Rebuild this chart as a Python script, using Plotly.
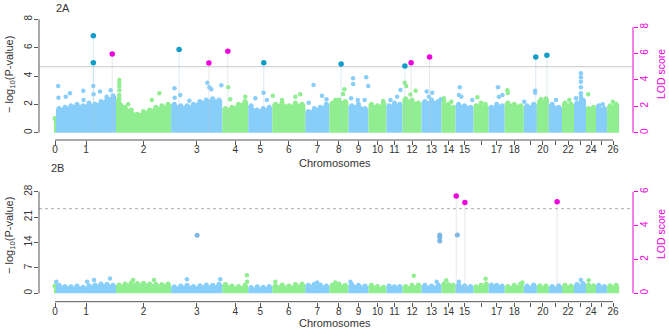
import plotly.graph_objects as go

# ---------------- data ----------------
chrom_names = [str(i) for i in range(27)]
chrom_len = [9, 270, 248, 230, 117, 108, 149, 108, 86, 90, 81, 72, 86, 90,
             63, 81, 68, 72, 86, 59, 54, 59, 54, 54, 45, 50, 54]
tick_text = ["0", "1", "2", "3", "4", "5", "6", "7", "8", "9", "10", "11", "12", "13",
             "14", "15", "", "17", "18", "", "20", "", "22", "", "24", "", "26"]

# binned upper envelope of the dense SNP cloud (-log10 P) per chromosome
env_a = [[1.0],
         [1.7, 1.8, 1.9, 2.0, 1.9, 2.1, 2.0, 2.2, 2.4, 2.6],
         [2.4, 1.8, 1.6, 1.3, 1.5, 1.6, 1.8, 1.9, 2.0],
         [2.0, 1.9, 1.9, 2.0, 2.2, 2.3, 2.4, 2.3],
         [1.7, 1.8, 2.0, 2.2], [1.9, 1.6, 1.7, 1.8], [2.0, 2.1, 1.9, 2.1, 2.0],
         [1.5, 1.7, 1.8, 2.0], [2.1, 2.3, 2.2], [1.9, 2.0, 1.7], [2.0, 1.9, 2.1],
         [1.9, 2.1, 2.0], [2.4, 2.3, 2.1], [2.2, 2.3, 2.2], [2.2, 2.0, 1.8],
         [2.0, 1.9, 1.8], [1.9, 2.1, 1.8], [1.8, 2.0, 1.9], [2.1, 2.0, 1.9],
         [1.9, 2.0], [2.2, 2.4], [2.0, 1.8], [2.1, 2.0], [2.1, 2.3], [1.7, 1.8],
         [1.9, 1.7], [1.9, 2.0]]
env_b = [[2.0],
         [2.2, 1.9, 1.8, 2.0, 1.7, 2.1, 2.3, 2.6, 2.5, 2.2],
         [2.3, 2.6, 2.9, 2.7, 2.8, 2.6, 2.5, 2.4, 2.6],
         [1.8, 2.0, 2.2, 1.9, 2.1, 2.3, 2.2, 2.5],
         [2.4, 2.0, 1.9, 2.2], [1.6, 1.8, 1.7, 1.9], [2.1, 2.3, 2.0, 2.4, 2.6],
         [2.2, 2.5, 2.3, 2.0], [2.3, 2.6, 2.2], [2.4, 2.2, 2.0], [2.2, 1.9, 1.7],
         [2.0, 1.8, 1.9], [1.9, 2.2, 2.3], [2.2, 2.0, 2.3], [2.6, 2.4, 2.2],
         [2.3, 2.1, 1.9], [1.8, 2.2, 2.6], [2.3, 2.2, 2.0], [1.9, 2.2, 2.6],
         [2.0, 2.3], [2.1, 2.0], [1.9, 2.1], [2.2, 2.0], [2.4, 2.7], [2.3, 2.1],
         [2.2, 1.9], [2.1, 2.2]]

# scattered SNPs above the cloud, panel 2A
bg_a_chr = [1, 1, 1, 1, 1, 1, 1, 1, 1, 1, 1,
            2, 2, 2, 2, 2, 2, 2, 2,
            3, 3, 3, 3, 3, 3, 3, 3,
            4, 4, 4, 5, 5, 5, 6, 6, 6, 6,
            7, 7, 7, 7, 8, 8, 8,
            9, 9, 9, 9, 9, 9, 9, 10, 11, 11, 11,
            12, 12, 12, 12, 13, 13, 13, 13, 14, 14,
            15, 15, 15, 15, 16, 16, 17, 17, 17, 18, 18,
            19, 19, 19, 20, 21, 22,
            23, 23, 23, 23, 23, 23, 23, 23, 24, 25, 26, 26]
bg_a_pos = [10, 11, 44, 63, 123, 124, 168, 169, 198, 246, 228,
            15, 15, 15, 15, 15, 55, 161, 195,
            15, 16, 41, 82, 163, 172, 181, 226,
            27, 36, 104, 32, 69, 84, 3, 44, 104, 126,
            37, 15, 75, 95, 68, 62, 27,
            21, 21, 12, 42, 80, 89, 73, 66, 18, 63, 48,
            10, 17, 59, 36, 23, 48, 33, 86, 10, 44,
            19, 15, 26, 75, 17, 54, 42, 46, 62, 12, 14,
            2, 51, 51, 18, 32, 33,
            31, 31, 31, 31, 31, 31, 31, 9, 10, 30, 26, 36]
bg_a_val = [3.30, 2.47, 2.54, 2.78, 2.96, 2.30, 3.30, 2.71, 2.90, 3.00, 2.54,
            3.72, 3.53, 3.30, 3.00, 2.66, 2.00, 2.30, 2.78,
            3.13, 2.47, 2.66, 2.26, 3.53, 3.20, 3.06, 3.34,
            3.20, 2.36, 2.54, 2.43, 2.82, 2.30, 2.61, 2.30, 2.54, 2.71,
            3.37, 2.12, 2.61, 2.36, 3.06, 2.73, 2.30,
            3.84, 3.44, 2.43, 2.30, 3.91, 3.30, 2.30, 2.24, 2.30, 3.01, 2.54,
            3.53, 3.30, 2.96, 2.70, 2.90, 2.82, 2.54, 2.36, 2.43, 2.19,
            3.20, 2.66, 2.54, 2.30, 2.50, 2.03, 3.20, 2.54, 2.66, 3.00, 2.80,
            2.19, 2.96, 2.82, 2.36, 2.30, 2.30,
            4.19, 3.91, 3.60, 3.20, 2.78, 2.54, 2.30, 2.43, 2.71, 2.00, 2.19, 1.95]

# significant SNPs (-log10 P), panel 2A
sig_a_chr = [1, 1, 3, 5, 8, 12, 19, 20]
sig_a_pos = [168, 168, 36, 70, 53, 11, 54, 45]
sig_a_val = [6.85, 4.94, 5.88, 4.94, 4.85, 4.71, 5.34, 5.46]
# linkage peaks (LOD), panel 2A
lod_a_chr = [1, 3, 4, 12, 13]
lod_a_pos = [253, 170, 25, 39, 36]
lod_a_val = [5.97, 5.29, 6.18, 5.31, 5.74]

# scattered SNPs above the cloud, panel 2B
bg_b_chr = [1, 1, 1, 1, 2, 2, 3, 3, 4, 4, 6, 7, 8, 9, 12, 13, 14, 15, 16, 18, 23, 24]
bg_b_pos = [1, 140, 171, 243, 77, 171, 71, 221, 111, 112, 14, 53, 27, 9, 51, 68, 21, 15, 54, 80, 31, 12]
bg_b_val = [3.2, 3.2, 3.66, 4.1, 3.66, 3.66, 3.85, 3.85, 5.0, 3.2, 3.2, 3.0, 3.0, 3.2,
            4.86, 3.2, 3.57, 3.2, 4.03, 3.0, 3.66, 3.57]
# significant SNPs (-log10 P), panel 2B
sig_b_chr = [3, 13, 13, 13, 15]
sig_b_pos = [117, 82, 82, 82, 8]
sig_b_val = [16.0, 16.06, 15.43, 14.4, 16.06]
# linkage peaks (LOD), panel 2B
lod_b_chr = [15, 15, 21]
lod_b_pos = [3, 42, 37]
lod_b_val = [5.75, 5.37, 5.41]

lod_threshold = 5

# ---------------- styling ----------------
BLUE = "#87CEFA"
GREEN = "#90EE90"
CYAN = "#119DC8"
MAG = "#EE00DD"
SIGBLUE = "#7BB6E4"
AXC = "#555555"
FONT = "Liberation Sans, Arial, sans-serif"

starts = []
acc = 0
for L in chrom_len:
    starts.append(acc)
    acc += L
centers = [s + L / 2 for s, L in zip(starts, chrom_len)]


def col(ch):
    return GREEN if ch % 2 == 0 else BLUE


def gx(chs, poss):
    return [starts[c] + p for c, p in zip(chs, poss)]


fig = go.Figure()


def add_cloud(env, xa, ya):
    for ch, vals in enumerate(env):
        s, L, n = starts[ch], chrom_len[ch], len(vals)
        bx = [s + (i + 0.5) * L / n for i in range(n)]
        px = [s, s] + bx + [s + L, s + L]
        py = [0, vals[0]] + vals + [vals[-1], 0]
        fig.add_trace(go.Scatter(x=px, y=py, mode="lines", fill="toself",
                                 fillcolor=col(ch), line=dict(width=0, color=col(ch)),
                                 xaxis=xa, yaxis=ya, hoverinfo="skip", showlegend=False))
        fig.add_trace(go.Scatter(x=bx, y=vals, mode="markers",
                                 marker=dict(size=5, color=col(ch)),
                                 xaxis=xa, yaxis=ya, hoverinfo="skip", showlegend=False))


def add_points(chs, poss, vals, xa, ya, colors, size):
    fig.add_trace(go.Scatter(x=gx(chs, poss), y=vals, mode="markers",
                             marker=dict(size=size, color=colors),
                             xaxis=xa, yaxis=ya, showlegend=False))


def add_drops(chs, poss, vals, xa, ya, color):
    xs, ys = [], []
    for x, v in zip(gx(chs, poss), vals):
        xs += [x, x, None]
        ys += [0, v, None]
    fig.add_trace(go.Scatter(x=xs, y=ys, mode="lines", line=dict(width=0.7, color=color),
                             xaxis=xa, yaxis=ya, hoverinfo="skip", showlegend=False))


# panel A
add_cloud(env_a, "x", "y")
add_points(bg_a_chr, bg_a_pos, bg_a_val, "x", "y", [col(c) for c in bg_a_chr], 4.5)
add_drops(sig_a_chr, sig_a_pos, sig_a_val, "x", "y", "rgba(160,200,220,0.55)")
add_drops(lod_a_chr, lod_a_pos, lod_a_val, "x", "y2", "rgba(200,200,210,0.6)")
add_points(sig_a_chr, sig_a_pos, sig_a_val, "x", "y", CYAN, 5.5)
add_points(lod_a_chr, lod_a_pos, lod_a_val, "x", "y2", MAG, 5.5)

# panel B
add_cloud(env_b, "x2", "y3")
add_points(bg_b_chr, bg_b_pos, bg_b_val, "x2", "y3", [col(c) for c in bg_b_chr], 4.5)
add_drops(lod_b_chr, lod_b_pos, lod_b_val, "x2", "y4", "rgba(200,200,210,0.6)")
add_points(sig_b_chr, sig_b_pos, sig_b_val, "x2", "y3", SIGBLUE, 5)
add_points(lod_b_chr, lod_b_pos, lod_b_val, "x2", "y4", MAG, 5.5)

# ---------------- layout ----------------
W, H = 669, 330
L_M, R_M = 39, 36
PW = W - L_M - R_M
MB_PER_PX = 4.5
x_range = [-15 * MB_PER_PX, (633 - 54) * MB_PER_PX]


def xaxis(anchor):
    return dict(domain=[0, 1], anchor=anchor, range=x_range, tickvals=centers,
                ticktext=tick_text, ticks="outside", ticklen=4, tickcolor=AXC,
                tickfont=dict(size=10, color="#333", family=FONT),
                ticklabelstandoff=-4, automargin=False,
                showline=False, showgrid=False, zeroline=False, tickangle=0)


def yaxis(domain, rng, tv, anchor, color, side="left", overlay=None):
    d = dict(range=rng, tickvals=tv, ticks="outside", ticklen=4, tickcolor=color,
             tickfont=dict(size=10, color=color if side == "right" else "#333", family=FONT),
             tickangle=-90, showline=False, showgrid=False, zeroline=False,
             ticklabelstandoff=-2, automargin=False,
             anchor=anchor, side=side)
    if overlay:
        d["overlaying"] = overlay
    else:
        d["domain"] = domain
    return d


domA = [(H - 140) / H, (H - 15) / H]
domB = [(H - 301.7) / H, (H - 185) / H]

fig.update_layout(
    width=W, height=H, margin=dict(l=L_M, r=R_M, t=0, b=0, autoexpand=False),
    plot_bgcolor="white", paper_bgcolor="white", showlegend=False, hovermode=False,
    font=dict(family=FONT, color="#333"),
    xaxis=xaxis("y"),
    xaxis2=xaxis("y3"),
    yaxis=yaxis(domA, [-0.515, 8.306], [0, 2, 4, 6, 8], "x", AXC),
    yaxis2=yaxis(None, [-0.553, 8.92], [0, 2, 4, 6, 8], "x", MAG, "right", "y"),
    yaxis3=yaxis(domB, [-2.31, 29.84], [0, 7, 14, 21, 28], "x2", AXC),
    yaxis4=yaxis(None, [-0.496, 6.40], [0, 2, 4, 6], "x2", MAG, "right", "y3"),
)

shapes = [
    # axis lines spanning only the tick range (R style)
    dict(type="line", xref="x domain", yref="y", x0=0, x1=0, y0=0, y1=8, line=dict(color=AXC, width=1)),
    dict(type="line", xref="x", yref="y domain", x0=centers[0], x1=centers[-1], y0=0, y1=0, line=dict(color=AXC, width=1)),
    dict(type="line", xref="x domain", yref="y2", x0=1, x1=1, y0=0, y1=8, line=dict(color=MAG, width=1)),
    dict(type="line", xref="x2 domain", yref="y3", x0=0, x1=0, y0=0, y1=28, line=dict(color=AXC, width=1)),
    dict(type="line", xref="x2", yref="y3 domain", x0=centers[0], x1=centers[-1], y0=0, y1=0, line=dict(color=AXC, width=1)),
    dict(type="line", xref="x2 domain", yref="y4", x0=1, x1=1, y0=0, y1=6, line=dict(color=MAG, width=1)),
    # LOD thresholds
    dict(type="line", xref="x domain", yref="y2", x0=0, x1=1, y0=lod_threshold, y1=lod_threshold,
         line=dict(color="#c8c8c8", width=1), layer="below"),
    dict(type="line", xref="x2 domain", yref="y4", x0=0, x1=1, y0=lod_threshold, y1=lod_threshold,
         line=dict(color="#aaaaaa", width=1, dash="dot"), layer="below"),
]
fig.update_layout(shapes=shapes)


def px2paper(x, y):
    return (x - L_M) / PW, (H - y) / H


def ann(text, x, y, size, angle=0, color="#333"):
    ax, ay = px2paper(x, y)
    return dict(text=text, x=ax, y=ay, xref="paper", yref="paper", showarrow=False,
                textangle=angle, xanchor="center", yanchor="middle",
                font=dict(size=size, color=color, family=FONT))


ylab = "\u2212 log<sub>10</sub>(P-value)"
fig.update_layout(annotations=[
    ann("2A", 63, 8, 11),
    ann("2B", 57, 168, 11),
    ann("Chromosomes", 335, 163, 11),
    ann("Chromosomes", 335, 323, 11),
    ann(ylab, 10, 75, 11, -90),
    ann(ylab, 10, 236, 11, -90),
    ann("LOD score", 661, 74, 10.5, -90, MAG),
    ann("LOD score", 661, 234, 10.5, -90, MAG),
])

fig.write_html("out.html", config={"displayModeBar": False, "staticPlot": True},
               post_script="document.body.style.margin='0';document.body.style.overflow='hidden';")
